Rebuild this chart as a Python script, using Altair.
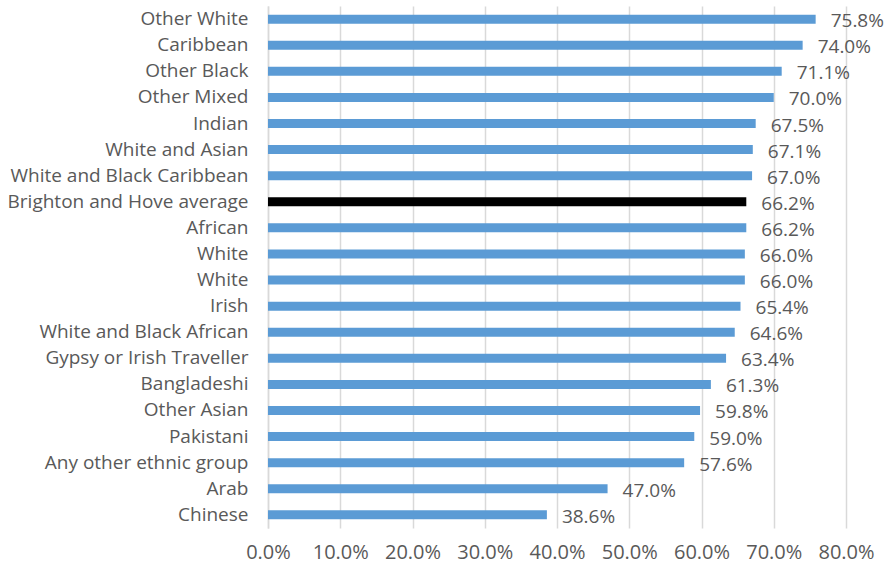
import altair as alt
import pandas as pd

categories = ["Other White", "Caribbean", "Other Black", "Other Mixed", "Indian",
              "White and Asian", "White and Black Caribbean", "Brighton and Hove average",
              "African", "White", "White", "Irish", "White and Black African",
              "Gypsy or Irish Traveller", "Bangladeshi", "Other Asian", "Pakistani",
              "Any other ethnic group", "Arab", "Chinese"]
values = [75.8, 74.0, 71.1, 70.0, 67.5, 67.1, 67.0, 66.2, 66.2, 66.0, 66.0, 65.4,
          64.6, 63.4, 61.3, 59.8, 59.0, 57.6, 47.0, 38.6]
x_ticks = [0, 10, 20, 30, 40, 50, 60, 70, 80]

keys = [f"{i:02d}|{c}" for i, c in enumerate(categories)]
df = pd.DataFrame({
    "key": keys,
    "name": categories,
    "value": values,
    "label": [f"{v:.1f}%" for v in values],
    "avg": [c == "Brighton and Hove average" for c in categories],
})

FONT = "Open Sans"
TXT = "#595959"

y_enc = alt.Y("key:N", sort=keys,
              scale=alt.Scale(paddingInner=0.65, paddingOuter=0.33),
              axis=alt.Axis(title=None, labelExpr="split(datum.label,'|')[1]",
                            ticks=False, domain=True, domainColor="#d9d9d9",
                            domainWidth=1.5, labelFont=FONT, labelFontSize=19,
                            labelColor=TXT, labelPadding=20, grid=False,
                            labelLimit=400))
x_enc = alt.X("value:Q", scale=alt.Scale(domain=[0, 80], nice=False),
              axis=alt.Axis(title=None, values=x_ticks, labelExpr="format(datum.value,'.1f')+'%'",
                            ticks=False, domain=False, grid=True, gridColor="#d9d9d9",
                            gridWidth=1.5, labelFont=FONT, labelFontSize=20,
                            labelColor=TXT, labelPadding=14, labelOverlap=False,
                            labelFlush=False))

bars = alt.Chart(df).mark_bar(size=9).encode(
    x=x_enc, y=y_enc,
    color=alt.condition("datum.avg", alt.value("#000000"), alt.value("#5b9bd5")),
)
texts = alt.Chart(df).mark_text(align="left", baseline="middle", dx=15, dy=2,
                                font=FONT, fontSize=19, color=TXT).encode(
    x="value:Q", y=alt.Y("key:N", sort=keys), text="label:N")

chart = (bars + texts).properties(
    width=578, height=522,
    autosize=alt.AutoSizeParams(type="none"),
    padding={"left": 268, "top": 6, "right": 41, "bottom": 45},
).configure_view(stroke=None)

chart.save("out.html", embed_options={"renderer": "svg", "actions": False})
